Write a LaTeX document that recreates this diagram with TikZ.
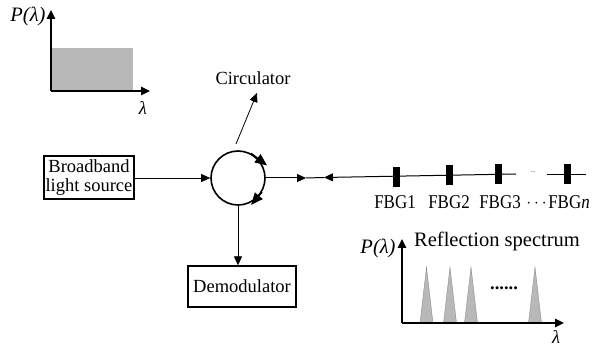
\documentclass[tikz,border=0pt]{standalone}
\usepackage{fontspec}
\setmainfont{Liberation Serif}
\usetikzlibrary{arrows.meta}
\definecolor{fillgray}{gray}{0.72}
\newcommand{\narrowtext}[1]{\scalebox{0.87}[1]{#1}}
\tikzset{
  x=1pt,y=-1pt,
  lbl/.style={inner sep=0pt,font=\fontsize{18.5}{20}\selectfont},
  fbglbl/.style={inner sep=0pt,font=\fontsize{19.5}{22}\selectfont},
  biglbl/.style={inner sep=0pt,font=\fontsize{20.5}{22}\selectfont},
  boxn/.style={draw,line width=1.3pt,inner sep=0pt,align=center,font=\fontsize{18.5}{20}\selectfont},
  axis/.style={line width=1.2pt,-{Triangle[length=9pt,width=8.5pt]}},
  conn/.style={line width=0.8pt,-{Triangle[length=9pt,width=8pt]}},
  fbg/.style={fill=black,draw=none,minimum width=7pt,minimum height=20pt,inner sep=0pt},
  peak/.style={fill=fillgray,draw=gray,line width=0.3pt},
  carrow/.style={line width=1.6pt,-{Triangle[length=12pt,width=10pt]}},
}
\begin{document}
\begin{tikzpicture}
\useasboundingbox (0,0) rectangle (597,347);
% input spectrum
\fill[fillgray] (51,48) rectangle (133,91);
\coordinate (o1) at (51,91);
\coordinate (y1) at (51,10);
\coordinate (x1) at (150,91);
\draw[axis] (o1) -- (y1);
\draw[axis] (o1) -- (x1);
\node[biglbl] (p1) at (28,16) {\itshape P(λ)};
\node[lbl] (l1) at (143,108) {\itshape λ};
% nodes
\node[boxn,minimum width=90pt,minimum height=43pt] (src) at (89,177.5) {Broadband\\[-1pt]light source};
\node[draw,circle,line width=1.6pt,minimum size=54pt,inner sep=0pt] (circ) at (238,178) {};
\node[boxn,minimum width=108pt,minimum height=41pt] (dem) at (242,286.5) {Demodulator};
\node[lbl] (clab) at (253,78) {Circulator};
\coordinate (cs) at (236,144);
\coordinate (ce) at (257,93);
\draw[conn] (cs) -- (ce);
\draw[conn] (src.east |- circ.west) -- (circ.west);
\draw[conn] (circ.south) -- (dem.north -| circ.south);
% circulator arrows
\draw[carrow] (circ.62) -- ++(16,12);
\draw[carrow] (circ.-30) -- ++(-11,13);
% fibre
\coordinate (f1) at (306,178);
\coordinate (f2) at (324,177.5);
\coordinate (f3) at (516,174);
\coordinate (g1) at (547,174);
\coordinate (g2) at (586,174);
\draw[line width=1pt] (f1) -- (f2);
\draw[conn,line width=1pt] (circ.east) -- (f1);
\draw[conn,line width=1pt] (f3) -- (f2);
\draw[line width=0.8pt] (g1) -- (g2);
\node[fbg] (b1) at (396.5,177.5) {};
\node[fbg] (b2) at (449.5,175) {};
\node[fbg] (b3) at (498,174.5) {};
\node[fbg] (b4) at (567.5,174.5) {};
\node[inner sep=0pt,font=\fontsize{6}{7}\selectfont] (dots0) at (533,172) {...};
\node[fbglbl] (t1) at (395,202) {\narrowtext{FBG1}};
\node[fbglbl] (t2) at (449,202) {\narrowtext{FBG2}};
\node[fbglbl] (t3) at (500,202) {\narrowtext{FBG3}};
\node[fbglbl] (t0) at (536.5,204) {\fontsize{19}{20}\selectfont$\cdots$};
\node[fbglbl] (t4) at (569,202) {\narrowtext{FBG\textit{n}}};
% reflection spectrum
\foreach \c in {426.5,450,471,535}{
  \draw[peak] (\c-6.5,323) -- (\c,267) -- (\c+6.5,323) -- cycle;
}
\coordinate (o2) at (402,323);
\coordinate (y2) at (402,239);
\coordinate (x2) at (564,323);
\draw[axis] (o2) -- (y2);
\draw[axis] (o2) -- (x2);
\node[biglbl] (p2) at (378,248) {\itshape P(λ)};
\node[biglbl] (rs) at (497,241) {Reflection spectrum};
\node[lbl] (l2) at (556,337) {\itshape λ};
\node[lbl] (dd) at (504,288) {\textbf{......}};
\end{tikzpicture}
\end{document}
